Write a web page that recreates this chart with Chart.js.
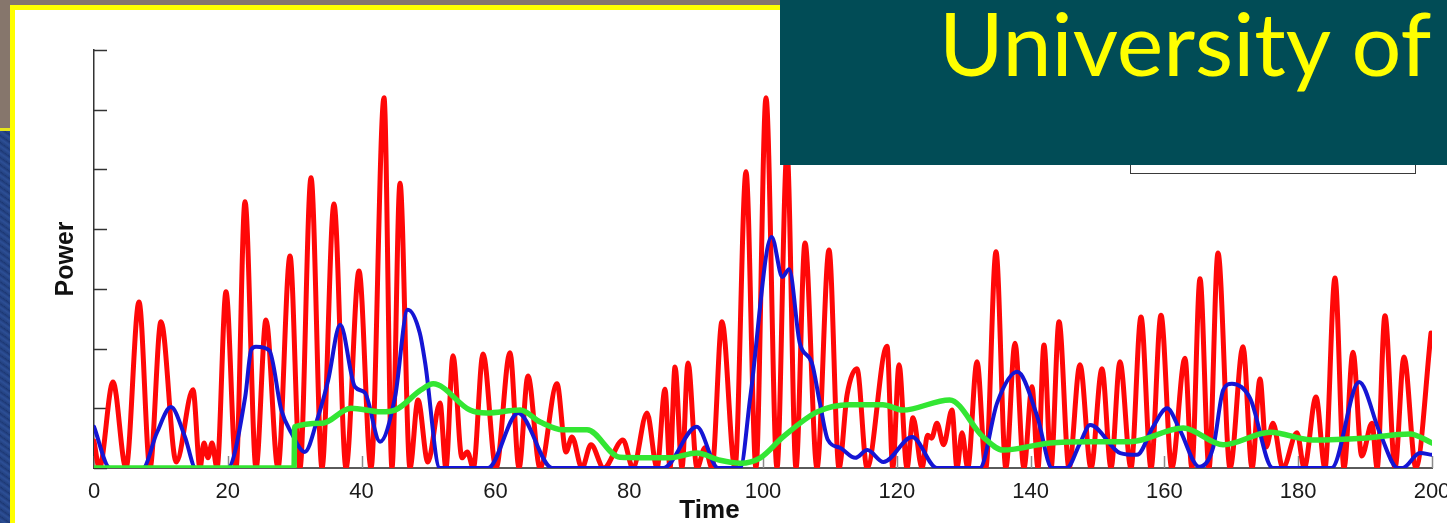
<!DOCTYPE html>
<html>
<head>
<meta charset="utf-8">
<script src="https://cdn.jsdelivr.net/npm/chart.js@4.4.1/dist/chart.umd.min.js"></script>
<style>
    html, body { margin: 0; padding: 0; }
    body { width: 1447px; height: 523px; overflow: hidden; position: relative; background: #86766c; }
    .blue-strip { position: absolute; left: 0; top: 131px; width: 11px; bottom: 0;
        background: repeating-linear-gradient(35deg, #22407f 0px, #2d4f96 3px, #1c3773 6px); }
    .blue-line { position: absolute; left: 0; top: 128px; width: 11px; height: 3px; background: #e6e61a; }
    .frame { position: absolute; left: 10px; top: 5px; right: 0; bottom: 0; background: #ffff00; }
    .panel { position: absolute; left: 15px; top: 10px; right: 0; bottom: 0; background: #ffffff; }
    #chart { position: absolute; left: 0; top: 0; }
    .legend-box { position: absolute; left: 1130px; top: 140px; width: 284px; height: 32px;
        border: 1.5px solid #3a3a3a; background: #fff; }
    .banner { position: absolute; left: 780px; top: 0; width: 667px; height: 165px; background: #014c56; overflow: hidden; }
    .banner span { position: absolute; left: 159px; top: -2px; font-family: Lato, "Open Sans", sans-serif;
        font-size: 88px; line-height: 88px; color: #ffff00; white-space: nowrap; }
</style>
</head>
<body>
<div class="blue-strip"></div>
<div class="blue-line"></div>
<div class="frame"></div>
<div class="panel"></div>
<canvas id="chart" width="1470" height="523"></canvas>
<div class="legend-box"></div>
<div class="banner"><span>University of</span></div>

<script>
// 時間軸（Time）と各系列の値（Power、軸目盛 0〜7）
const redT = [0, 0.8, 2.84, 4.78, 6.73, 8.37, 10.01, 12.3, 14.8, 15.84, 16.44, 17.04, 17.64, 18.39,
    19.73, 21.23, 22.57, 24.22, 25.71, 27.5, 29.3, 30.79, 32.44, 34.08, 35.87, 37.67, 39.61, 41.41,
    43.35, 44.54, 45.74, 47.23, 48.43, 49.9, 51.72, 52.6, 53.66, 55.0, 55.8, 56.7, 58.15, 60.1,
    62.18, 63.53, 64.87, 66.67, 69.21, 70.55, 71.45, 72.94, 74.29, 76.2, 79.07, 80.57, 82.66, 84.16,
    85.35, 86.1, 86.85, 87.89, 88.79, 90.13, 91.33, 92.38, 93.87, 95.81, 97.46, 98.95, 100.45, 102.09,
    103.59, 104.93, 106.28, 108.07, 109.87, 111.36, 112.56, 114.05, 115.55, 118.54, 119.4, 120.33, 121.52,
    122.42, 123.77, 124.6, 125.2, 126.0, 127.0, 128.25, 129.0, 129.75, 130.6, 131.99, 133.3, 134.83,
    136.3, 137.67, 139.0, 140.21, 141.1, 142.0, 143.05, 144.25, 145.74, 147.38, 149.03, 150.67, 152.02,
    153.36, 155.0, 156.5, 158.0, 159.49, 161.1, 163.08, 164.1, 165.32, 166.67, 168.01, 169.81, 171.75,
    173.1, 174.29, 175.2, 176.23, 177.7, 179.82, 180.9, 182.66, 184.0, 185.5, 186.85, 188.19, 189.5,
    191.03, 191.8, 192.97, 194.47, 195.81, 197.6, 199.85];
const redP = [0.45, 0, 1.44, 0, 2.78, 0, 2.45, 0.1, 1.31, 0, 0.42, 0.17, 0.42, 0,
    2.95, 0, 4.46, 0, 2.48, 0, 3.55, 0, 4.86, 0, 4.42, 0, 3.3, 0,
    6.2, 0, 4.77, 0, 1.14, 0.1, 1.09, 0, 1.88, 0.17, 0.27, 0, 1.91, 0,
    1.93, 0, 1.54, 0, 1.41, 0.27, 0.52, 0, 0.39, 0, 0.47, 0, 0.92, 0,
    1.32, 0, 1.69, 0, 1.76, 0, 0.34, 0, 2.45, 0, 4.96, 0, 6.2, 0,
    5.3, 0, 3.77, 0, 3.65, 0, 1.22, 1.66, 0, 2.04, 0, 1.73, 0,
    0.84, 0, 0.55, 0.5, 0.75, 0.39, 0.97, 0, 0.59, 0, 1.78, 0, 3.62,
    0, 2.09, 0, 1.36, 0, 2.06, 0, 2.45, 0, 1.73, 0, 1.66, 0,
    1.78, 0, 2.53, 0, 2.56, 0, 1.84, 0, 3.17, 0, 3.6, 0, 2.03,
    0, 1.49, 0.35, 0.75, 0, 0.59, 0, 1.19, 0, 3.18, 0, 1.94, 0.2,
    0.75, 0, 2.55, 0, 1.86, 0, 2.26];

const blueT = [0, 2.4, 7.3, 9.4, 11.5, 13.6, 15.2, 20.0, 22.6, 23.5, 24.2, 26.2, 28.0, 29.5, 31.5,
    33.5, 35.0, 36.8, 39.0, 40.5, 42.75, 45.0, 46.9, 48.7, 49.5, 51.7, 58.9, 63.4, 68.5, 85.1,
    90.1, 93.3, 96.6, 98.1, 101.3, 102.9, 103.9, 105.5, 107.3, 108.5, 109.7, 111.5, 113.8, 115.6,
    118.0, 122.3, 126.0, 132.4, 135.0, 138.0, 141.0, 143.2, 145.4, 147.4, 148.9, 153.4, 155.9,
    158.3, 160.4, 162.3, 165.2, 167.3, 168.8, 170.1, 172.8, 176.2, 185.0, 189.1, 192.2, 194.9,
    195.6, 198.2, 200];
const blueP = [0.69, 0, 0, 0.59, 1.02, 0.52, 0, 0, 1.19, 1.98, 2.03, 1.97, 0.97, 0.59, 0.27,
    0.86, 1.47, 2.4, 1.36, 1.26, 0.44, 1.19, 2.65, 2.26, 1.76, 0, 0, 0.92, 0, 0,
    0.69, 0, 0, 1.19, 3.87, 3.2, 3.33, 2.09, 1.76, 1.09, 0.47, 0.34, 0.17, 0.3,
    0.1, 0.52, 0, 0, 1.09, 1.61, 0.86, 0, 0, 0.42, 0.72, 0.25, 0.22,
    0.69, 1.0, 0.64, 0.02, 0.35, 1.31, 1.41, 1.17, 0, 0, 1.44, 0.59, 0,
    0, 0.25, 0.22];

const greenT = [0, 29.9, 30.0, 34.1, 38.4, 42.9, 45.0, 48.9, 50.7, 56.2, 58.7, 63.7, 66.7, 70.1,
    73.7, 78.6, 86.1, 90.1, 93.6, 96.6, 99.6, 103.0, 108.1, 113.0, 117.9, 120.9, 127.9, 132.9,
    135.9, 142.9, 148.9, 154.9, 162.8, 168.8, 175.8, 182.2, 189.7, 196.7, 200];
const greenP = [0, 0, 0.69, 0.75, 1.0, 0.94, 0.97, 1.31, 1.41, 0.97, 0.92, 0.97, 0.77, 0.64,
    0.64, 0.18, 0.17, 0.25, 0.13, 0.08, 0.17, 0.52, 0.94, 1.06, 1.06, 0.97, 1.14, 0.52,
    0.3, 0.42, 0.44, 0.44, 0.67, 0.39, 0.6, 0.47, 0.5, 0.57, 0.42];

const xTicks = [0, 20, 40, 60, 80, 100, 120, 140, 160, 180, 200];
const timeLabelAt = 92; // 「Time」ラベルの位置（時間軸上）

const FONT = "'Liberation Sans', Arial, sans-serif";

function toPoints(ts, vs) {
    return ts.map((t, i) => ({ x: t, y: vs[i] }));
}

// 内向きの目盛線と「Time」ラベル
const axisDecor = {
    id: 'axisDecor',
    beforeDatasetsDraw(chart) {
        const { ctx, chartArea, scales: { x, y } } = chart;
        ctx.save();
        ctx.strokeStyle = '#8a8a8a';
        ctx.lineWidth = 1.5;
        xTicks.forEach(v => {
            const px = Math.round(x.getPixelForValue(v)) + 0.5;
            ctx.beginPath();
            ctx.moveTo(px, chartArea.bottom);
            ctx.lineTo(px, chartArea.bottom - 12);
            ctx.stroke();
        });
        ctx.strokeStyle = '#333333';
        y.ticks.forEach(t => {
            const py = Math.round(y.getPixelForValue(t.value)) + 0.5;
            ctx.beginPath();
            ctx.moveTo(chartArea.left, py);
            ctx.lineTo(chartArea.left + 13, py);
            ctx.stroke();
        });
        ctx.restore();
    },
    afterDraw(chart) {
        const { ctx, chartArea, scales: { x } } = chart;
        ctx.save();
        ctx.font = `bold 26px ${FONT}`;
        ctx.fillStyle = '#111111';
        ctx.textAlign = 'center';
        ctx.textBaseline = 'middle';
        ctx.fillText('Time', x.getPixelForValue(timeLabelAt), chartArea.bottom + 43);
        ctx.restore();
    }
};

const ctx = document.getElementById('chart').getContext('2d');
new Chart(ctx, {
    type: 'line',
    data: {
        datasets: [
            {
                label: 'green',
                data: toPoints(greenT, greenP),
                borderColor: '#33e633',
                borderWidth: 5.5,
                cubicInterpolationMode: 'monotone',
                pointRadius: 0,
                borderJoinStyle: 'round',
                borderCapStyle: 'round'
            },
            {
                label: 'blue',
                data: toPoints(blueT, blueP),
                borderColor: '#1515d4',
                borderWidth: 4,
                cubicInterpolationMode: 'monotone',
                pointRadius: 0,
                borderJoinStyle: 'round',
                borderCapStyle: 'round'
            },
            {
                label: 'red',
                data: toPoints(redT, redP),
                borderColor: '#ff0808',
                borderWidth: 5,
                cubicInterpolationMode: 'monotone',
                pointRadius: 0,
                borderJoinStyle: 'round',
                borderCapStyle: 'round'
            }
        ]
    },
    options: {
        responsive: false,
        animation: false,
        devicePixelRatio: 1,
        layout: { padding: { left: 0, top: 50, right: 38, bottom: 0 } },
        plugins: {
            legend: { display: false },
            tooltip: { enabled: false }
        },
        scales: {
            x: {
                type: 'linear',
                min: 0,
                max: 200,
                afterBuildTicks(scale) {
                    scale.ticks = xTicks.map(v => ({ value: v }));
                },
                ticks: {
                    font: { family: FONT, size: 22 },
                    color: '#1a1a1a',
                    padding: 3,
                    maxRotation: 0,
                    autoSkip: false
                },
                grid: { display: false },
                border: { display: true, color: '#5a5a5a', width: 2 },
                afterFit(scale) { scale.height = 55; }
            },
            y: {
                min: 0,
                max: 7,
                ticks: { stepSize: 1, display: false },
                grid: { display: false },
                border: { display: true, color: '#333333', width: 1.5 },
                title: {
                    display: true,
                    text: 'Power',
                    color: '#111111',
                    font: { family: FONT, size: 25, weight: 'bold' },
                    padding: { top: 51, bottom: 0 }
                },
                afterFit(scale) { scale.width = 94; }
            }
        }
    },
    plugins: [axisDecor]
});
</script>
</body>
</html>
